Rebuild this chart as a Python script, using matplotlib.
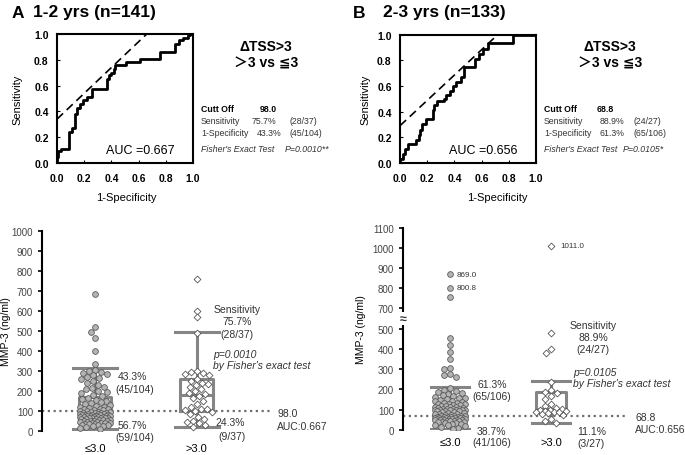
import numpy as np
import matplotlib
matplotlib.use("Agg")
import matplotlib.pyplot as plt

plt.rcParams['font.family'] = ['Liberation Sans', 'DejaVu Sans', 'Noto Sans CJK JP']

W, H = 685, 456

# ---- ROC curves (step corners) ----
rocA_fpr = [0.00, 0.00, 0.01, 0.03, 0.09, 0.11, 0.13, 0.15, 0.17, 0.19, 0.22, 0.26, 0.37, 0.38,
            0.40, 0.42, 0.43, 0.51, 0.61, 0.76, 0.87, 0.90, 0.93, 0.96, 0.98, 1.00]
rocA_tpr = [0.00, 0.05, 0.09, 0.11, 0.24, 0.27, 0.38, 0.43, 0.46, 0.49, 0.51, 0.57, 0.65, 0.68,
            0.70, 0.73, 0.76, 0.78, 0.81, 0.86, 0.92, 0.95, 0.97, 0.99, 1.00, 1.00]
tangA = ([0.0, 0.66], [0.34, 1.0])

rocB_fpr = [0.00, 0.00, 0.02, 0.04, 0.06, 0.12, 0.14, 0.15, 0.16, 0.19, 0.24, 0.25, 0.27, 0.32,
            0.34, 0.37, 0.39, 0.41, 0.45, 0.47, 0.55, 0.58, 0.61, 0.65, 0.83, 1.00]
rocB_tpr = [0.00, 0.03, 0.07, 0.11, 0.15, 0.18, 0.22, 0.26, 0.30, 0.34, 0.41, 0.45, 0.48, 0.50,
            0.53, 0.56, 0.60, 0.63, 0.67, 0.75, 0.81, 0.85, 0.89, 0.93, 1.00, 1.00]
tangB = ([0.0, 0.72], [0.29, 1.0])

# ---- MMP-3 values, 1-2 yrs ----
a_le3 = [685, 520, 495, 465, 400, 335,
         305, 300, 295, 290, 285, 280, 270, 265, 260, 250, 240, 230, 222, 215, 210, 200, 195, 190, 182, 175,
         165, 160, 155, 150, 145, 140, 135, 130, 125, 120, 118, 115, 112, 110, 108, 105, 103, 100, 99,
         97, 95, 93, 92, 90, 89, 88,
         86, 85, 84, 83, 82, 81, 80, 79, 78, 77, 76, 75, 74, 73, 72, 71, 70, 69, 68, 67, 66, 65, 64, 63, 62, 61,
         58, 56, 55, 53, 52, 50, 49, 48, 46, 45, 44, 42, 41, 40, 38, 37, 35, 34, 32, 30, 28, 26, 24, 20, 15, 10]
a_gt3 = [760, 600, 570, 490, 300, 295, 290, 285, 280,
         260, 250, 240, 235, 230, 220, 210, 200, 190, 185,
         175, 165, 150, 135, 120, 112, 108, 104, 100,
         95, 85, 72, 60, 52, 45, 38, 30, 22]

# ---- MMP-3 values, 2-3 yrs ----
b_le3 = [869.0, 800.8, 755, 455, 420, 385, 350, 305, 300, 275, 270, 260,
         205, 198, 192, 188, 182, 178, 172, 168, 163, 158, 155, 150, 147, 144, 141,
         138, 135, 133, 130, 128, 126, 124, 121, 119, 117, 115, 113, 111, 109, 107, 105, 104, 102, 101,
         100, 99, 98, 97, 96, 96, 95,
         93, 91, 89, 87, 85, 83, 80, 78, 76, 74, 72, 70,
         68, 67, 66, 65, 64, 63, 62, 61, 60, 59, 58, 57, 56, 56, 55,
         54, 53, 52, 51, 50, 49, 48, 47, 46, 45, 44, 43, 42, 40, 38, 36, 34, 32, 30, 28, 25, 22, 18, 14, 10, 5]
b_gt3 = [1011.0, 480, 400, 380, 235, 195, 185, 180, 165, 150, 130, 120, 110, 105,
         100, 98, 95, 92, 90, 88, 86, 82, 78, 72, 55, 45, 35]

# box stats: whislo, q1, med, q3, whishi
boxA = [(10, 60, 87, 172, 315), (20, 100, 182, 262, 497)]
boxB = [(3, 53, 95, 137, 210), (35, 87, 105, 185, 240)]
groups = ['≤3.0', '>3.0']
cutA, cutB = 98.0, 68.8

fig = plt.figure(figsize=(W / 100, H / 100), dpi=100)


def px_axes(l, t, r, b):
    return fig.add_axes([l / W, 1 - b / H, (r - l) / W, (b - t) / H])


def ft(x, y, s, **kw):
    kw.setdefault('va', 'center')
    return fig.text(x / W, 1 - y / H, s, **kw)


def roc(ax, fpr, tpr, tang, auc):
    ax.plot(fpr, tpr, drawstyle='steps-post', color='black', lw=2)
    ax.plot(tang[0], tang[1], color='black', lw=1.2, dashes=(5, 3))
    ax.set_xlim(0, 1)
    ax.set_ylim(0, 1)
    ticks = np.arange(0, 1.01, 0.2)
    ax.set_xticks(ticks, [f'{t:.1f}' for t in ticks])
    ax.set_yticks(ticks, [f'{t:.1f}' for t in ticks])
    ax.tick_params(direction='in', length=2, labelsize=7.5)
    ax.tick_params(axis='x', pad=7)
    ax.tick_params(axis='y', pad=6)
    for lab in ax.get_xticklabels() + ax.get_yticklabels():
        lab.set_fontweight('bold')
    for s in ax.spines.values():
        s.set_linewidth(1.5)
    ax.text(0.36, 0.1, auc, fontsize=9, transform=ax.transAxes, va='center')


axA = px_axes(57, 35, 193, 164)
roc(axA, rocA_fpr, rocA_tpr, tangA, 'AUC =0.667')
axB = px_axes(400, 35.5, 536, 164)
roc(axB, rocB_fpr, rocB_tpr, tangB, 'AUC =0.656')

ft(17, 100, 'Sensitivity', rotation=90, ha='center', fontsize=8)
ft(365, 100, 'Sensitivity', rotation=90, ha='center', fontsize=8)
ft(126, 198, '1-Specificity', ha='center', fontsize=8)
ft(497, 198, '1-Specificity', ha='center', fontsize=8)

ft(12, 13, 'A', fontsize=12.5, fontweight='bold')
ft(33, 13, '1-2 yrs (n=141)', fontsize=12.5, fontweight='bold')
ft(353, 13, 'B', fontsize=12.5, fontweight='bold')
ft(383, 13, '2-3 yrs (n=133)', fontsize=12.5, fontweight='bold')

for cx in (266, 610):
    ft(cx, 47, 'ΔTSS>3', ha='center', fontsize=10, fontweight='bold')
    ft(cx, 64, '＞3 vs ≦3', ha='center', fontsize=10, fontweight='bold')

# cut-off tables
fs = 6.3
ft(201, 109, 'Cutt Off', fontsize=fs, fontweight='bold')
ft(260, 109, '98.0', fontsize=fs, fontweight='bold')
ft(201, 122, 'Sensitivity', fontsize=fs, color='#333333')
ft(252, 122, '75.7%', fontsize=fs, color='#333333')
ft(290, 122, '(28/37)', fontsize=fs, color='#333333')
ft(201, 133, '1-Specificity', fontsize=fs, color='#333333')
ft(257, 133, '43.3%', fontsize=fs, color='#333333')
ft(290, 133, '(45/104)', fontsize=fs, color='#333333')
ft(201, 150, "Fisher's Exact Test", fontsize=fs, style='italic', color='#333333')
ft(285, 150, 'P=0.0010**', fontsize=fs, style='italic', color='#333333')

ft(544, 109, 'Cutt Off', fontsize=fs, fontweight='bold')
ft(597, 109, '68.8', fontsize=fs, fontweight='bold')
ft(544, 122, 'Sensitivity', fontsize=fs, color='#333333')
ft(600, 122, '88.9%', fontsize=fs, color='#333333')
ft(633, 122, '(24/27)', fontsize=fs, color='#333333')
ft(544, 133, '1-Specificity', fontsize=fs, color='#333333')
ft(600, 133, '61.3%', fontsize=fs, color='#333333')
ft(633, 133, '(65/106)', fontsize=fs, color='#333333')
ft(544, 150, "Fisher's Exact Test", fontsize=fs, style='italic', color='#333333')
ft(623, 150, 'P=0.0105*', fontsize=fs, style='italic', color='#333333')


def swarm(ypx, d=6.0, maxw=15, step=1.0):
    # place each point at the offset nearest the centre that keeps it d px from the others
    cands = sorted(np.arange(-maxw, maxw + 0.01, step), key=abs)
    placed = []
    offs = []
    for yv in ypx:
        best, bestd = 0.0, -1.0
        for c in cands:
            md = min((np.hypot(c - px, yv - py) for px, py in placed), default=np.inf)
            if md >= d:
                best = c
                break
            if md > bestd:
                bestd, best = md, c
        placed.append((best, yv))
        offs.append(best)
    return np.array(offs)


box_col = '#858585'
bprops = dict(color=box_col, linewidth=2.2)


def dist_panel(ax, le3, gt3, stats, cut, fwd, px_per_x, widths, capw):
    bx = [dict(whislo=s[0], q1=s[1], med=s[2], q3=s[3], whishi=s[4], fliers=[]) for s in stats]
    ax.bxp(bx, positions=[1, 2], widths=widths, capwidths=capw, showfliers=False,
           boxprops=bprops, whiskerprops=bprops, capprops=bprops, medianprops=bprops,
           manage_ticks=False, zorder=2)
    xs = []
    for i, vals in enumerate((le3, gt3)):
        v = np.array(vals, dtype=float)
        offs = swarm(fwd(v) * 0.2)
        xs.append(1 + i + offs / px_per_x)
    ax.scatter(xs[0], le3, s=17, marker='o', facecolor='#b4b4b4', edgecolor='#5a5a5a',
               linewidth=0.6, zorder=3)
    ax.scatter(xs[1], gt3, s=12, marker='D', facecolor='white', edgecolor='#555555',
               linewidth=0.6, zorder=3)
    ax.axhline(cut, color='#6e6e6e', lw=1.6, linestyle=(0, (1, 1.6)), zorder=1)
    for s in ('top', 'right', 'bottom'):
        ax.spines[s].set_visible(False)
    ax.spines['left'].set_linewidth(1.5)
    ax.set_xticks([1, 2], groups)
    ax.tick_params(axis='y', length=3, width=1.2, labelsize=7, labelcolor='#444444')
    ax.set_ylabel('MMP-3 (ng/ml)', fontsize=7.5)
    return xs


# 1-2 yrs distribution
dA = px_axes(42, 232, 272, 432)
dA.set_xlim(0.48, 2.74)
dA.set_ylim(0, 1000)
dA.set_yticks(np.arange(0, 1001, 100))
dist_panel(dA, a_le3, a_gt3, boxA, cutA, lambda v: v, 102, 0.32, 0.43)
dA.tick_params(axis='x', length=0, labelsize=8, pad=9)
dA.yaxis.set_label_coords(-0.135, 0.5)

# 2-3 yrs distribution with broken axis
bk_in = [-1000, 0, 540, 660, 5000]
bk_out = [-1000, 0, 540, 563, 4903]


def fwd(v):
    return np.interp(v, bk_in, bk_out)


def inv(v):
    return np.interp(v, bk_out, bk_in)


dB = px_axes(403, 228.7, 627, 430.7)
dB.set_yscale('function', functions=(fwd, inv))
dB.set_xlim(0.535, 2.75)
dB.set_ylim(0, 1100)
dB.set_yticks([0, 100, 200, 300, 400, 500, 700, 800, 900, 1000, 1100])
dB.yaxis.set_minor_locator(matplotlib.ticker.NullLocator())
xsB = dist_panel(dB, b_le3, b_gt3, boxB, cutB, fwd, 101, 0.30, 0.38)
dB.tick_params(axis='x', length=0, labelsize=8, pad=5.5)
dB.yaxis.set_label_coords(-0.165, 0.5)
dB.text(0, 600, '≈', transform=dB.get_yaxis_transform(), ha='center', va='center',
        fontsize=9, fontweight='bold', color='#333333',
        bbox=dict(facecolor='white', edgecolor='none', pad=0.2))
for xv, yv in ((xsB[0][0], b_le3[0]), (xsB[0][1], b_le3[1])):
    dB.annotate(f'{yv:.1f}', (xv, yv), xytext=(5, 0), textcoords='offset points',
                fontsize=5.8, va='center', color='#333333')
dB.annotate(f'{b_gt3[0]:.1f}', (xsB[1][0], b_gt3[0]), xytext=(7, 0), textcoords='offset points',
            fontsize=5.8, va='center', color='#333333')

# annotations on the distribution panels
fs2 = 7.5
c2 = '#333333'
ft(132, 377, '43.3%', ha='center', fontsize=fs2, color=c2)
ft(135, 390, '(45/104)', ha='center', fontsize=fs2, color=c2)
ft(132, 426, '56.7%', ha='center', fontsize=fs2, color=c2)
ft(135, 438, '(59/104)', ha='center', fontsize=fs2, color=c2)
ft(230, 423, '24.3%', ha='center', fontsize=fs2, color=c2)
ft(232, 437, '(9/37)', ha='center', fontsize=fs2, color=c2)
ft(237, 310, 'Sensitivity', ha='center', fontsize=fs2, color=c2)
ft(237, 322, '75.7%', ha='center', fontsize=fs2, color=c2)
ft(237, 335, '(28/37)', ha='center', fontsize=fs2, color=c2)
ft(213, 355, 'p=0.0010', fontsize=fs2, style='italic', color=c2)
ft(213, 366, "by Fisher's exact test", fontsize=fs2, style='italic', color=c2)
ft(277, 414, '98.0', fontsize=fs2, color=c2)
ft(277, 427, 'AUC:0.667', fontsize=fs2, color=c2)

ft(492, 385, '61.3%', ha='center', fontsize=fs2, color=c2)
ft(492, 397, '(65/106)', ha='center', fontsize=fs2, color=c2)
ft(491, 432, '38.7%', ha='center', fontsize=fs2, color=c2)
ft(492, 443, '(41/106)', ha='center', fontsize=fs2, color=c2)
ft(592, 432, '11.1%', ha='center', fontsize=fs2, color=c2)
ft(591, 444, '(3/27)', ha='center', fontsize=fs2, color=c2)
ft(593, 326, 'Sensitivity', ha='center', fontsize=fs2, color=c2)
ft(593, 338, '88.9%', ha='center', fontsize=fs2, color=c2)
ft(593, 350, '(24/27)', ha='center', fontsize=fs2, color=c2)
ft(573, 373, 'p=0.0105', fontsize=fs2, style='italic', color=c2)
ft(573, 384, "by Fisher's exact test", fontsize=fs2, style='italic', color=c2)
ft(635, 418, '68.8', fontsize=fs2, color=c2)
ft(635, 430, 'AUC:0.656', fontsize=fs2, color=c2)

fig.savefig('out.png', dpi=100)
